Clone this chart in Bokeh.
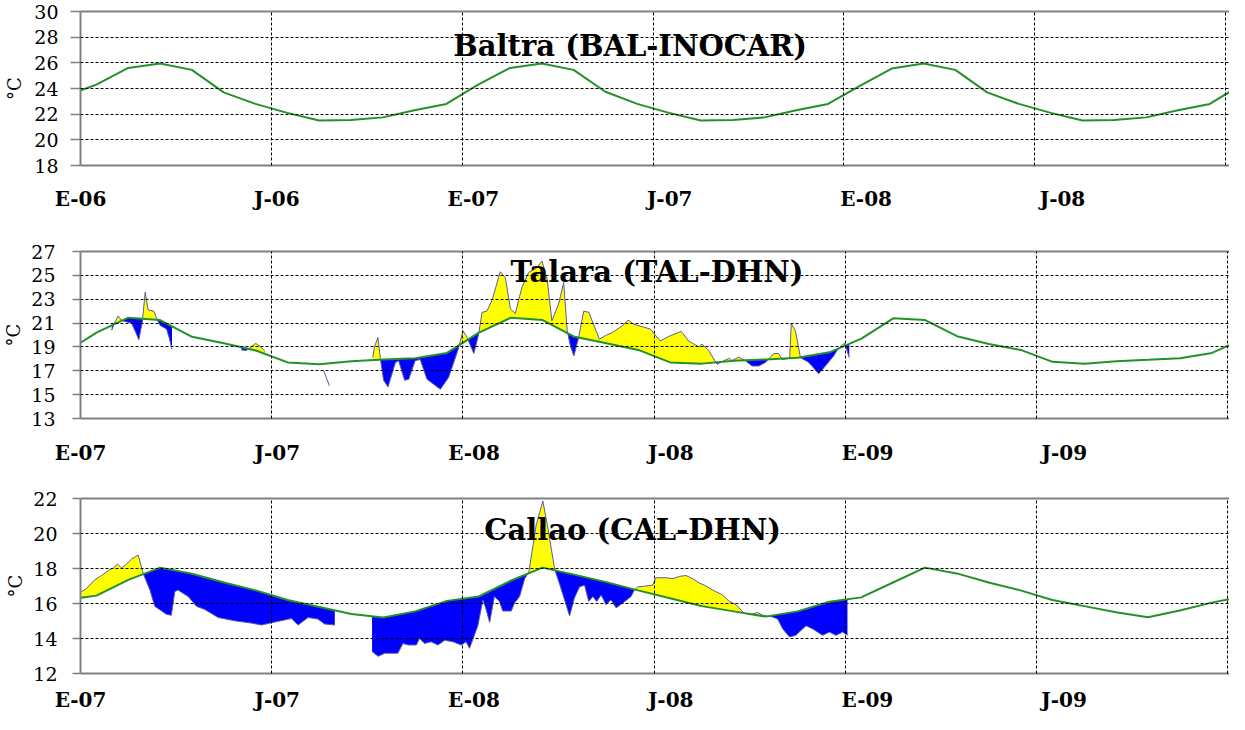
import numpy as np
from bokeh.plotting import figure
from bokeh.models import Range1d, FixedTicker, LinearAxis, Grid, Label
from bokeh.layouts import column
from bokeh.embed import file_html
from bokeh.resources import INLINE

# ---------------- data ----------------
# month index: 0 = January of the panel's first year; climatology knots at mid-month,
# from December of the previous year to January after the last year
clim_m = [-0.5 + i for i in range(38)]

baltra_clim = [23.4,
               24.3, 25.6, 25.95, 25.45, 23.7, 22.8, 22.1, 21.5, 21.55, 21.75, 22.3, 22.8,
               24.3, 25.6, 25.95, 25.45, 23.75, 22.8, 22.1, 21.5, 21.55, 21.75, 22.3, 22.8,
               24.2, 25.55, 25.95, 25.45, 23.7, 22.8, 22.1, 21.5, 21.55, 21.75, 22.3, 22.8,
               24.3]

talara_clim = [18.5,
               20.2, 21.45, 21.25, 19.85, 19.3, 18.7, 17.7, 17.55, 17.8, 17.95, 18.05, 18.5,
               20.2, 21.45, 21.25, 19.85, 19.3, 18.75, 17.7, 17.6, 17.85, 17.95, 18.1, 18.55,
               19.7, 21.4, 21.25, 19.9, 19.25, 18.75, 17.75, 17.6, 17.8, 17.92, 18.05, 18.5,
               19.7]

callao_clim = [16.2,
               16.45, 17.35, 18.05, 17.7, 17.2, 16.75, 16.2, 15.8, 15.4, 15.2, 15.55, 16.15,
               16.4, 17.3, 18.05, 17.65, 17.22, 16.75, 16.3, 15.85, 15.55, 15.25, 15.55, 16.1,
               16.35, 17.2, 18.05, 17.72, 17.2, 16.75, 16.2, 15.85, 15.5, 15.22, 15.6, 16.05,
               16.4]

# observed series (segments), Talara 2007-2008
talara_obs_x = [
    [0.98, 1.05, 1.18, 1.30, 1.45, 1.60, 1.72, 1.83, 1.94, 2.03, 2.12, 2.30, 2.42, 2.50, 2.70, 2.78, 2.87],
    [5.05, 5.20, 5.35, 5.50, 5.65, 5.80],
    [9.17, 9.22, 9.33, 9.41, 9.51, 9.65, 9.88, 9.98, 10.17, 10.30, 10.50, 10.66, 10.87, 11.29, 11.55, 11.85,
     12.00, 12.13, 12.34, 12.44, 12.49, 12.60, 12.75, 12.91, 13.17, 13.33, 13.49, 13.64, 13.85, 14.06, 14.32,
     14.48, 14.64, 14.79, 15.00, 15.16, 15.27, 15.37, 15.48, 15.63, 15.79, 15.95, 16.28, 16.47, 16.68, 16.99,
     17.18, 17.36, 17.62, 17.88, 18.19, 18.51, 18.85, 19.08, 19.40, 19.50, 19.71, 19.97, 20.23, 20.36, 20.44,
     20.65, 20.86, 21.07, 21.28, 21.49, 21.75, 21.91, 22.01, 22.25, 22.30, 22.43, 22.59, 22.85, 23.16, 23.37,
     23.63, 23.74, 23.87, 23.97, 24.05, 24.12],
]
talara_obs_t = [
    [20.4, 20.9, 21.6, 21.2, 21.1, 21.0, 20.3, 19.6, 21.1, 23.6, 22.1, 22.0, 21.2, 20.8, 20.5, 19.8, 18.8],
    [18.75, 18.7, 19.0, 19.3, 19.0, 18.6],
    [18.1, 18.95, 19.8, 18.0, 16.2, 15.65, 17.7, 17.85, 16.2, 16.3, 17.85, 17.95, 16.3, 15.45, 16.45, 18.8,
     20.35, 19.8, 18.45, 19.5, 20.05, 21.9, 22.0, 22.9, 25.3, 24.8, 22.2, 21.8, 24.0, 25.25, 25.65,
     26.2, 24.7, 21.2, 22.6, 24.4, 20.35, 19.1, 18.25, 19.8, 22.0, 21.9, 19.65, 19.95, 20.2, 20.75,
     21.25, 20.9, 20.7, 20.5, 19.5, 19.95, 20.3, 19.5, 19.0, 19.25, 18.7, 17.55, 17.9, 18.05, 17.85,
     18.15, 17.85, 17.4, 17.4, 17.7, 18.45, 18.45, 17.95, 18.05, 20.95, 20.35, 18.1, 17.7, 16.75, 17.4,
     18.25, 18.7, 19.1, 19.3, 18.7, 18.1],
]
# short isolated trace (no shading)
talara_trace_x = [7.63, 7.81]
talara_trace_t = [17.0, 15.75]

# observed series (segments), Callao 2007-2008
callao_obs_x = [
    [0.03, 0.16, 0.45, 0.66, 0.87, 1.03, 1.16, 1.29, 1.44, 1.60, 1.81, 1.97, 2.18, 2.33, 2.70, 2.85, 2.96,
     3.06, 3.38, 3.64, 3.90, 4.32, 4.84, 5.36, 5.68, 6.04, 6.62, 6.83, 7.14, 7.45, 7.66, 7.98],
    [9.15, 9.34, 9.55, 9.96, 10.12, 10.28, 10.54, 10.64, 10.80, 11.00, 11.22, 11.43, 11.69, 11.95, 12.10,
     12.21, 12.47, 12.63, 12.73, 12.84, 12.99, 13.15, 13.25, 13.52, 13.62, 13.78, 13.94, 14.07, 14.30,
     14.51, 14.67, 14.88, 15.03, 15.35, 15.50, 15.66, 15.82, 15.95, 16.08, 16.20, 16.34, 16.49, 16.65,
     16.81, 17.02, 17.28, 17.38, 17.49, 17.70, 17.96, 18.06, 18.38, 18.59, 18.80, 19.00, 19.21, 19.42,
     19.58, 19.84, 20.15, 20.36, 20.57, 20.83, 21.04, 21.25, 21.41, 21.72, 21.88, 22.04, 22.25, 22.45,
     22.77, 22.98, 23.29, 23.50, 23.71, 23.92, 24.07],
]
callao_obs_t = [
    [16.68, 16.81, 17.36, 17.6, 17.88, 18.03, 18.25, 18.03, 18.25, 18.53, 18.77, 17.7, 16.77, 15.84, 15.38,
     15.33, 16.68, 16.77, 16.4, 15.84, 15.66, 15.2, 15.01, 14.88, 14.77, 14.92, 15.14, 14.77, 15.2, 15.11,
     14.83, 14.77],
    [13.26, 12.98, 13.16, 13.16, 13.72, 13.63, 13.63, 14.0, 13.72, 13.81, 13.63, 13.9, 13.81, 13.63, 13.81,
     13.44, 14.73, 16.21, 15.66, 14.92, 16.4, 16.12, 15.57, 15.57, 16.03, 16.4, 17.42, 17.79, 20.47,
     21.86, 20.28, 17.97, 17.14, 15.29, 16.31, 16.95, 17.05, 16.12, 16.4, 16.12, 16.49, 15.94, 16.21,
     15.75, 16.03, 16.4, 16.77, 16.95, 16.99, 17.05, 17.47, 17.47, 17.42, 17.55, 17.6, 17.42, 17.17,
     17.05, 16.77, 16.49, 16.12, 15.94, 15.44, 15.38, 15.48, 15.33, 15.23, 15.11, 14.55, 14.09, 14.18,
     14.73, 14.55, 14.18, 14.37, 14.18, 14.37, 14.18],
]

tick_months = [0, 6, 12, 18, 24, 30, 36]
labels_06 = ["E-06", "J-06", "E-07", "J-07", "E-08", "J-08", "E-09"]
labels_07 = ["E-07", "J-07", "E-08", "J-08", "E-09", "J-09", "E-10"]

titles = ["Baltra (BAL-INOCAR)", "Talara (TAL-DHN)", "Callao (CAL-DHN)"]

# ---------------- style ----------------
GREEN = "#23912a"
OBS = "#5b5b9e"
YEL = "#ffff00"
BLU = "#0000ff"
AXC = "#808080"
SERIF = "DejaVu Serif"
LABEL_STRETCH = 1.029


def shade(p, cx, cy, sx, sy):
    sx = np.asarray(sx, float)
    sy = np.asarray(sy, float)
    knots = [k for k in cx if sx[0] < k < sx[-1]]
    x = np.union1d(sx, knots)
    o = np.interp(x, sx, sy)
    c = np.interp(x, cx, cy)
    d = o - c
    xs, os_, cs = [x[0]], [o[0]], [c[0]]
    for i in range(1, len(x)):
        if d[i - 1] * d[i] < 0:
            t = d[i - 1] / (d[i - 1] - d[i])
            xc = x[i - 1] + t * (x[i] - x[i - 1])
            yc = c[i - 1] + t * (c[i] - c[i - 1])
            xs.append(xc); os_.append(yc); cs.append(yc)
        xs.append(x[i]); os_.append(o[i]); cs.append(c[i])
    xs = np.array(xs); os_ = np.array(os_); cs = np.array(cs)
    p.varea(x=xs, y1=cs, y2=np.maximum(os_, cs), fill_color=YEL)
    p.varea(x=xs, y1=np.minimum(os_, cs), y2=cs, fill_color=BLU)
    p.line(sx, sy, line_color=OBS, line_width=1)


def panel(h, left, top, bottom, xend, yr, ystep, labels, title, tpos,
          tick_out, tick_standoff, ylab_standoff, xlab_standoff):
    p = figure(width=1229, height=h, x_range=Range1d(0, xend), y_range=Range1d(*yr),
               output_backend="svg", toolbar_location=None,
               x_axis_location=None, y_axis_location="left",
               min_border_left=left, min_border_right=0, min_border_top=top,
               min_border_bottom=bottom, outline_line_color=None)
    p.center = []
    yt = list(range(yr[0], yr[1] + 1, ystep))

    # station name: above the shaded areas, below the dashed grid
    p.add_layout(Label(x=tpos[0], y=tpos[1], text=title, text_font=SERIF,
                       text_font_style="bold", text_font_size="29px",
                       text_align="center", text_baseline="middle",
                       text_color="black", level="annotation"))
    p.add_layout(Grid(dimension=0, ticker=FixedTicker(ticks=tick_months[1:]),
                      grid_line_color="black", grid_line_dash="3 2", grid_line_width=1,
                      level="annotation"), "center")
    p.add_layout(Grid(dimension=1, ticker=FixedTicker(ticks=yt[1:-1]),
                      grid_line_color="black", grid_line_dash="3 2", grid_line_width=1,
                      level="annotation"), "center")

    ya = p.yaxis[0]
    ya.ticker = FixedTicker(ticks=yt)
    ya.axis_line_color = AXC
    ya.axis_line_width = 2
    ya.major_tick_line_color = AXC
    ya.major_tick_line_width = 1.5
    ya.major_tick_out = tick_out
    ya.major_tick_in = 0
    ya.minor_tick_line_color = None
    ya.major_label_standoff = tick_standoff
    ya.major_label_text_font = SERIF
    ya.major_label_text_font_size = "19px"
    ya.major_label_text_color = "black"
    ya.axis_label = "°C"
    ya.axis_label_text_font = SERIF
    ya.axis_label_text_font_style = "normal"
    ya.axis_label_text_font_size = "18px"
    ya.axis_label_text_color = "black"
    ya.axis_label_standoff = ylab_standoff

    p.extra_x_ranges = {"lab": Range1d(0, xend / LABEL_STRETCH)}
    xa = LinearAxis(x_range_name="lab", ticker=FixedTicker(ticks=tick_months),
                    major_label_overrides={m: s for m, s in zip(tick_months, labels)},
                    axis_line_color=AXC, axis_line_width=2,
                    major_tick_line_color=None, minor_tick_line_color=None,
                    major_tick_out=0, major_tick_in=0,
                    major_label_standoff=xlab_standoff,
                    major_label_text_font=SERIF, major_label_text_font_style="bold",
                    major_label_text_font_size="20px", major_label_text_color="black")
    p.add_layout(xa, "below")
    ta = LinearAxis(ticker=FixedTicker(ticks=[]), axis_line_color=AXC, axis_line_width=2,
                    major_tick_out=0, major_tick_in=0, major_label_standoff=0,
                    major_label_text_font_size="0px", minor_tick_line_color=None)
    p.add_layout(ta, "above")
    return p


p1 = panel(232, 75, 11, 67, 36.12, (18, 30), 2, labels_06, titles[0], (17.28, 27.35),
           10, 12, 6, 21)
p1.line(clim_m, baltra_clim, line_color=GREEN, line_width=2)

p2 = panel(246, 80, 19, 60, 36.05, (13, 27), 2, labels_07, titles[1], (18.09, 25.24),
           8, 17, 4, 22)
for sx, sy in zip(talara_obs_x, talara_obs_t):
    shade(p2, clim_m, talara_clim, sx, sy)
p2.line(talara_trace_x, talara_trace_t, line_color=OBS, line_width=1)
p2.line(clim_m, talara_clim, line_color=GREEN, line_width=2)

p3 = panel(236, 79, 20, 38, 36.06, (12, 22), 2, labels_07, titles[2], (17.33, 20.18),
           8, 15, 4, 14)
for sx, sy in zip(callao_obs_x, callao_obs_t):
    shade(p3, clim_m, callao_clim, sx, sy)
p3.line(clim_m, callao_clim, line_color=GREEN, line_width=2)

layout = column(p1, p2, p3, spacing=0)
open("out.html", "w").write(file_html(layout, INLINE))
